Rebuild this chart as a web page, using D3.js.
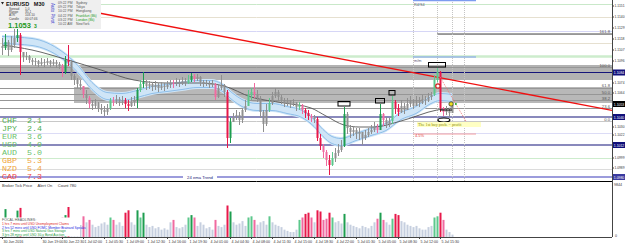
<!DOCTYPE html>
<html><head><meta charset="utf-8">
<script src="https://cdn.jsdelivr.net/npm/d3@7"></script>
<style>html,body{margin:0;padding:0;background:#fff;overflow:hidden}svg{display:block;font-family:"Liberation Sans",Arial,sans-serif}</style>
</head><body><svg id="c" width="625" height="244"></svg>
<script>
// ---------- DATA (prices stored as pips above BASE) ----------
const BASE = 1.1000;
const closePips = [109,115,107,112,119,122,105,100,101,97, 95,96,93,95,94,96,93,95,93,91,
 85,97,95,81,77,73,71,63,59,53, 51,54,49,47,45,49,57,55,58,54, 57,53,51,55,57,67,73,75,71,73,
 70,72,69,71,70,72,74,73,75,73, 76,74,77,81,78,80,75,73,74,72, 73,60,69,72,65,19,35,40,42,37,
 47,51,62,65,63,59,45,33,47,54, 61,65,60,57,54,56,53,55,50,52, 47,44,41,39,38,19,11,5,-3,-8,
 -1,4,7,11,43,29,25,27,23,25, 19,22,25,27,30,27,43,37,33,36, 55,49,45,51,47,53,56,51,57,54,
 58,56,60,62,77,85,49,45,47,44, 52];
const highPips = [119,123,117,121,129,130,124,105,105,102, 99,99,97,99,98,99,97,98,97,95,
 93,101,112,97,83,79,77,71,67,61, 57,58,55,53,51,53,59,60,62,60, 61,59,57,60,61,69,77,85,77,76,
 75,76,74,75,74,76,77,77,79,78, 80,79,82,84,83,83,81,77,77,76, 77,74,73,82,73,67,39,44,47,45,
 49,57,67,69,74,67,61,47,53,59, 65,69,67,62,59,59,57,58,55,55, 53,49,47,43,42,40,23,13,7,2,
 5,9,13,17,50,45,32,31,29,29, 25,27,29,32,35,33,53,44,40,39, 61,57,53,57,54,59,61,58,61,60,
 62,61,64,65,82,89,86,50,51,49, 53];
const lowPips = [102,107,101,105,109,115,82,95,97,94, 92,91,90,91,90,92,90,91,89,88,
 80,83,91,77,72,69,67,59,53,49, 47,49,45,43,41,42,47,51,53,51, 52,49,46,50,51,49,65,69,67,68,
 66,67,65,67,66,68,69,69,71,70, 72,71,73,75,75,76,71,70,71,69, 70,57,59,67,60,9,14,35,37,32,
 34,45,52,57,59,55,39,25,31,45, 52,59,56,53,50,51,49,51,46,47, 43,39,37,35,34,16,7,-1,-9,-18,
 -9,-5,1,5,10,23,19,21,18,17, 12,17,20,23,25,24,27,31,29,30, 33,43,41,44,43,47,50,48,51,50,
 53,52,55,57,61,75,45,41,42,40, 44];
const volumes = [250,930,330,290,410,880,970,330,245,205, 240,210,245,200,250,205,240,210,245,285,
 650,730,1000,490,410,370,400,690,490,570, 410,330,370,450,490,410,650,570,410,490,
 370,810,890,490,410,890,650,810,410,330, 370,290,330,245,290,245,490,570,330,290,
 330,410,650,730,650,370,490,410,290,330, 245,570,370,330,410,1050,850,490,410,450,
 530,370,650,690,570,410,490,530,410,690, 490,410,370,330,245,205,165,165,245,570,
 650,770,810,650,490,890,850,570,610,810, 650,490,530,450,770,490,410,370,330,290,
 370,330,290,370,490,610,810,570,490,410, 610,770,730,530,490,410,370,330,370,290,
 245,245,330,370,650,690,810,570,245,165, 80];

// moving averages (sampled at candle index)
const fastIdx  = [0,10,20,25,30,35,40,45,50,55,60,65,70,73,77,80,85,90,95,100,104,107,110,113,118,123,128,133,138,143,146,150];
const fastPips = [117,115,102,89,71,61,60,63,67,69,71,73,73,70,60,54,50,50,47,43,34,24,17,15,20,25,30,41,47,57,60,59];
const slowIdx  = [0,10,22,33,44,55,66,74,83,94,103,108,114,119,124,133,145,150];
const slowPips = [112,107,97,87,77,74,74,71,60,54,49,41,32,30,30,36,47,49];

// price levels
const pivotLevels = [1.1153,1.1140,1.1126,1.1114,1.1101,1.1024,1.0999,1.0988];
const navyLevels = [1.10845,1.1040,1.1012];
const emaTrendLevel = 1.0980;
const zoneA = [1.1092,1.1077];
const zoneB = [1.1070,1.1054];
const zoneBStart = 24;
const fibHigh = 1.1090, fibLow = 1.1036;
const fibRatios = [1.618,1.0,0.618,0.5,0.382,0.236,0.0];
const fibNames = ["161.8","100.0","61.8","50.0","38.2","23.6","0.0"];
const trendA = {i:20, p:1.1151}, trendB = {i:150, p:1.1077};
const bid = 1.1053;
const yTicks = [1.1151,1.1140,1.1129,1.1118,1.1107,1.1096,1.1074,1.1064,1.1030,1.1022,1.0999,1.0989];
const hlLevels = [1.10845,1.1040,1.1012,1.0980];
const xTickIdx = [0,13,20,27,34,41,48,55,62,69,76,83,90,97,104,111,118,125,132,139,146];
const xTickLabels = ["30 Jun 2016","30 Jun 19:00","30 Jun 22:30","1 Jul 02:00","1 Jul 05:30","1 Jul 09:00","1 Jul 12:30","1 Jul 16:00","1 Jul 19:30","4 Jul 01:00","4 Jul 04:30","4 Jul 08:00","4 Jul 11:30","4 Jul 15:00","4 Jul 18:30","4 Jul 22:00","5 Jul 01:30","5 Jul 05:00","5 Jul 08:30","5 Jul 12:00","5 Jul 15:30"];
const sessionTimes = ["09:22 PM","09:22 PM","10:22 PM","04:22 PM","03:22 PM","10:22 AM"];
const sessionNames = ["Sydney","Tokyo","Hongkong","Frankfurt (Bk)","London (Bk)","NewYork"];
const currencies = ["CHF","JPY","EUR","USD","AUD","GBP","NZD","CAD"];
const strengths = [2.1,2.4,3.6,4.9,5.0,5.3,5.4,7.3];
const headlines = ["1 hrs 7 mins until USD Unemployment Claims","2 hrs 52 mins until USD FOMC Member Brainard Speaks","3 hrs 7 mins until USD Natural Gas Storage","3 hrs 28 mins until USD 30-y Bond Auction"];
const markIdx = [114,126,130,145];
const vLineIdx = [137,145,150,154];

// ---------- DRAW ----------
const svg = d3.select("#c");
const R = 612, MAINB = 181, VOLB = 237;
const P = v => BASE + v/1e4;
const x = d3.scaleLinear().domain([0,150]).range([2,452]);
const y = d3.scaleLinear().domain([1.0976,1.1157]).range([181,0]);
const yv = d3.scaleLinear().domain([0,1000]).range([VOLB,207]);
const N = closePips.length;
const bars = d3.range(N).map(i=>{
  const c=P(closePips[i]), o= i?P(closePips[i-1]):P(closePips[0]+2);
  return {i,o,c,h:Math.max(P(highPips[i]),o,c),l:Math.min(P(lowPips[i]),o,c),v:volumes[i]};
});
function col(b, neutral){
  const up=b.c>=b.o;
  if(b.v>=720) return up?"#1e9e50":"#e8184a";
  if(b.v>=560) return up?"#5cc88c":"#f06aa0";
  return neutral;
}

const main = svg.append("g");
main.append("clipPath").attr("id","mc").append("rect").attr("x",0).attr("y",0).attr("width",R).attr("height",MAINB);
const g = main.append("g").attr("clip-path","url(#mc)");

// zones
g.append("rect").attr("x",0).attr("width",R).attr("y",y(zoneA[0])).attr("height",y(zoneA[1])-y(zoneA[0])).attr("fill","#b2b2b2");
g.append("rect").attr("x",x(zoneBStart)).attr("width",R-x(zoneBStart)).attr("y",y(zoneB[0])).attr("height",y(zoneB[1])-y(zoneB[0])).attr("fill","#b8b8b8");
// pivot levels
const pivCols=["#c9e8c9","#e6e0d0","#d6d6f6","#e6e0d0","#cdeccd","#dcdcf6","#cdeccd","#dcdcdc"];
pivotLevels.forEach((p,k)=>g.append("line").attr("x1",0).attr("x2",R).attr("y1",y(p)+.5).attr("y2",y(p)+.5).attr("stroke",pivCols[k]).attr("stroke-width",k==4?2.5:1));
// fib lines
fibRatios.forEach((r,k)=>{
  const p=fibLow+(fibHigh-fibLow)*r;
  const x0 = r>1.01 ? x(145) : 0;
  g.append("line").attr("x1",x0).attr("x2",R).attr("y1",Math.round(y(p))+.5).attr("y2",Math.round(y(p))+.5).attr("stroke",r==0?"#c8c8c8":"#969696").attr("stroke-width",1);
  svg.append("text").attr("x",R-2).attr("y",y(p)-0.5).attr("text-anchor","end").attr("font-size",4.2).attr("fill","#555").text(fibNames[k]);
});
// navy levels
navyLevels.forEach(p=>g.append("line").attr("x1",0).attr("x2",R).attr("y1",y(p)).attr("y2",y(p)).attr("stroke","#14147a").attr("stroke-width",1.2));
g.append("line").attr("x1",0).attr("x2",R).attr("y1",y(emaTrendLevel)).attr("y2",y(emaTrendLevel)).attr("stroke","#9c9cdc").attr("stroke-width",2.2);
// vertical dotted lines
vLineIdx.forEach(i=>g.append("line").attr("x1",Math.round(x(i))+.5).attr("x2",Math.round(x(i))+.5).attr("y1",0).attr("y2",MAINB).attr("stroke","#c4c4c4").attr("stroke-dasharray","1,1"));
// pivot short lines (blue)
g.append("line").attr("x1",x(137)).attr("x2",x(158)).attr("y1",0.5).attr("y2",0.5).attr("stroke","#7d9cf0").attr("stroke-width",1.5);
g.append("line").attr("x1",x(137)).attr("x2",x(158)).attr("y1",y(1.1100)).attr("y2",y(1.1100)).attr("stroke","#7d9cf0").attr("stroke-width",1.2);
g.append("line").attr("x1",x(137)).attr("x2",x(158)).attr("y1",y(1.1023)).attr("y2",y(1.1023)).attr("stroke","#f4a0a0").attr("stroke-width",1);
g.append("line").attr("x1",x(145)).attr("x2",R).attr("y1",y(fibLow+(fibHigh-fibLow)*1.618)).attr("y2",y(fibLow+(fibHigh-fibLow)*1.618)).attr("stroke","#969696");

// ribbon (fast MA band)
const fastPts = fastIdx.map((i,k)=>({i,p:P(fastPips[k])}));
const area = d3.area().x(d=>x(d.i)).y0(d=>y(d.p)-5).y1(d=>y(d.p)+5).curve(d3.curveMonotoneX);
g.append("path").datum(fastPts).attr("d",area).attr("fill","#cfe5f7");
[-3.5,3.5].forEach(off=>g.append("path").datum(fastPts).attr("d",d3.line().x(d=>x(d.i)).y(d=>y(d.p)+off).curve(d3.curveMonotoneX)).attr("fill","none").attr("stroke","#86b9e6").attr("stroke-width",0.9));
// slow MA
const slowPts = slowIdx.map((i,k)=>({i,p:P(slowPips[k])}));
g.append("path").datum(slowPts).attr("d",d3.line().x(d=>x(d.i)).y(d=>y(d.p)).curve(d3.curveMonotoneX)).attr("fill","none").attr("stroke","#555").attr("stroke-width",0.9);

// trend line
const slope=(trendB.p-trendA.p)/(trendB.i-trendA.i);
const iEnd=x.invert(R);
g.append("line").attr("x1",x(trendA.i)).attr("y1",y(trendA.p)).attr("x2",R).attr("y2",y(trendA.p+slope*(iEnd-trendA.i))).attr("stroke","#f01010").attr("stroke-width",1.3);

// candles
const cg=g.append("g");
bars.forEach(b=>{
  const c=col(b,"#8f8f8f"), xx=Math.round(x(b.i))+.5;
  cg.append("line").attr("x1",xx).attr("x2",xx).attr("y1",y(b.h)).attr("y2",y(b.l)).attr("stroke",c).attr("stroke-width",1);
  const top=y(Math.max(b.o,b.c)), bot=y(Math.min(b.o,b.c));
  cg.append("rect").attr("x",xx-1).attr("width",2).attr("y",top).attr("height",Math.max(1,bot-top)).attr("fill",c);
});

// high marker boxes
const boxW=[12,9,6,17];
markIdx.forEach((i,k)=>{
  const b=bars[i];
  g.append("rect").attr("x",x(i)-boxW[k]/2).attr("y",y(b.h)-5.5).attr("width",boxW[k]).attr("height",4.5).attr("fill","none").attr("stroke","#000").attr("stroke-width",1);
});
// projection & markers
g.append("line").attr("x1",x(146)).attr("y1",y(1.1080)).attr("x2",x(155)).attr("y2",y(1.1034)).attr("stroke","#f08080").attr("stroke-dasharray","1,1");
g.append("line").attr("x1",x(146)).attr("x2",x(150)).attr("y1",y(1.1047)).attr("y2",y(1.1047)).attr("stroke","#000");
g.append("ellipse").attr("cx",x(147.3)).attr("cy",y(1.1037)).attr("rx",6).attr("ry",2).attr("fill","#fff").attr("stroke","#000").attr("stroke-width",1.2);
g.append("circle").attr("cx",x(145.3)).attr("cy",y(1.1071)).attr("r",2.2).attr("fill","#fff").attr("stroke","#d02020").attr("stroke-width",1.2);
g.append("circle").attr("cx",x(149.7)).attr("cy",y(1.1053)).attr("r",2.2).attr("fill","#f0e020").attr("stroke","#333").attr("stroke-width",0.8);
g.append("circle").attr("cx",x(151.3)).attr("cy",y(1.1053)).attr("r",1).attr("fill","#20b020");
// info labels in chart
g.append("rect").attr("x",417).attr("y",y(1.1036)+1).attr("width",64).attr("height",5).attr("fill","#ffffc4");
g.append("text").attr("x",418).attr("y",y(1.1036)+5).attr("font-size",4.2).attr("fill","#8a8a00").attr("font-family","Liberation Serif").text("The 1st buy prob. = profit");
g.append("text").attr("x",415).attr("y",y(1.1020)).attr("font-size",4).attr("fill","#e04040").text("4.5%");
g.append("text").attr("x",414).attr("y",5.5).attr("font-size",3.8).attr("fill","#557").text("R4/S4");
g.append("text").attr("x",414).attr("y",y(1.1100)+5).attr("font-size",3.8).attr("fill","#557").text("m/m");

// 24 ema trend label
g.append("rect").attr("x",183).attr("y",y(emaTrendLevel)-3).attr("width",34).attr("height",6).attr("fill","#fff");
g.append("text").attr("x",200).attr("y",y(emaTrendLevel)+1.5).attr("text-anchor","middle").attr("font-size",4.2).attr("fill","#22227a").text("24 ema Trend");

// currency strength
const cCols=["#4fae4f","#4fae4f","#6cbf6c","#6cbf6c","#6cbf6c","#f0a43c","#f0a43c","#f04848"];
currencies.forEach((c,k)=>{
  svg.append("text").attr("x",2).attr("y",122.5+k*8).attr("font-family","Liberation Mono,monospace").attr("font-size",6.8).attr("textLength",40).attr("lengthAdjust","spacingAndGlyphs").attr("fill",cCols[k]).attr("xml:space","preserve").text(c+"  "+strengths[k].toFixed(1));
});

// info panel
svg.append("rect").attr("x",0).attr("y",0).attr("width",101).attr("height",29).attr("fill","#efefef");
svg.append("path").attr("d","M1,2 L4,2 L2.5,4.5Z").attr("fill","#222");
svg.append("text").attr("x",6).attr("y",5.5).attr("font-size",5.5).attr("font-weight","bold").attr("fill","#111").attr("xml:space","preserve").text("EURUSD   M30");
const stL=["Spread","Range","ATR","Candle"], stV=["1.0","35.1","103.10","00:07:46"];
stL.forEach((s,k)=>{svg.append("text").attr("x",9).attr("y",9.5+k*3.4).attr("font-size",3.2).attr("fill","#444").text(s);
 svg.append("text").attr("x",25).attr("y",9.5+k*3.4).attr("font-size",3.2).attr("fill","#444").text(stV[k]);});
svg.append("text").attr("x",8).attr("y",27.5).attr("font-size",7.5).attr("font-weight","bold").attr("fill","#1e9a1e").text("1.1053");
svg.append("text").attr("x",34).attr("y",27.5).attr("font-size",5).attr("font-weight","bold").attr("fill","#1e9a1e").text("3");
svg.append("text").attr("transform","translate(51,3) rotate(90)").attr("font-size",4.5).attr("fill","#3a3acc").text("Auto Pivot");
sessionTimes.forEach((t,k)=>{
  const gc = (k==3||k==4)?"#1e9a1e":"#555";
  svg.append("text").attr("x",58).attr("y",3.8+k*4.3).attr("font-size",3.4).attr("fill","#555").text(t);
  svg.append("text").attr("x",76).attr("y",3.8+k*4.3).attr("font-size",3.4).attr("fill",gc).text(sessionNames[k]);
});

// separator between main and volume
svg.append("line").attr("x1",0).attr("x2",R).attr("y1",MAINB+.5).attr("y2",MAINB+.5).attr("stroke","#000").attr("stroke-width",1);
svg.append("text").attr("x",2).attr("y",187).attr("font-size",4).attr("fill","#333").attr("xml:space","preserve").text("Broker Tick Price     Alert On     Count 780");

// volume bars
const vg=svg.append("g");
bars.forEach(b=>{
  const c=col(b,"#c6cfdf"), xx=Math.round(x(b.i));
  vg.append("rect").attr("x",xx-0.5).attr("width",2).attr("y",yv(b.v)).attr("height",VOLB-yv(b.v)).attr("fill",c);
});
// headlines block
svg.append("rect").attr("x",0).attr("y",217.5).attr("width",80).attr("height",19).attr("fill","#fff");
svg.append("text").attr("x",2).attr("y",221).attr("font-size",3.6).attr("fill","#555").text("FOCAL HEADLINES:");
const hCols=["#e02828","#2828e0","#1e9a40","#1e9a40"];
headlines.forEach((h,k)=>svg.append("text").attr("x",2).attr("y",225+k*3.6).attr("font-size",3.3).attr("fill",hCols[k]).text(h));

// x axis
svg.append("line").attr("x1",0).attr("x2",R).attr("y1",VOLB+.5).attr("y2",VOLB+.5).attr("stroke","#444");
xTickIdx.forEach((i,k)=>{
  const xx=Math.round(x(i))+.5;
  svg.append("line").attr("x1",xx).attr("x2",xx).attr("y1",VOLB).attr("y2",VOLB+2).attr("stroke","#444");
  svg.append("text").attr("x",xx+1).attr("y",242.5).attr("font-size",3.6).attr("fill","#333").text(xTickLabels[k]);
});

// right axis
svg.append("line").attr("x1",R+.5).attr("x2",R+.5).attr("y1",0).attr("y2",VOLB).attr("stroke","#444");
yTicks.forEach(p=>{
  svg.append("line").attr("x1",R).attr("x2",R+2).attr("y1",y(p)).attr("y2",y(p)).attr("stroke","#444");
  svg.append("text").attr("x",R+2.5).attr("y",y(p)+1.3).attr("font-size",3.5).attr("textLength",10).attr("lengthAdjust","spacingAndGlyphs").attr("fill","#333").text(p.toFixed(4));
});
hlLevels.forEach((p,k)=>{
  svg.append("rect").attr("x",R+1).attr("y",y(p)-3).attr("width",12).attr("height",6).attr("fill",k==3?"#3a3aa0":"#10107a");
  svg.append("text").attr("x",R+1.8).attr("y",y(p)+1.5).attr("font-size",3.8).attr("textLength",10.4).attr("lengthAdjust","spacingAndGlyphs").attr("fill","#fff").text(p.toFixed(4));
});
svg.append("rect").attr("x",R+1).attr("y",y(bid)-3).attr("width",12).attr("height",6).attr("fill","#000");
svg.append("text").attr("x",R+1.8).attr("y",y(bid)+1.5).attr("font-size",3.8).attr("textLength",10.4).attr("lengthAdjust","spacingAndGlyphs").attr("fill","#fff").text(bid.toFixed(4));
svg.append("text").attr("x",R+2).attr("y",186).attr("font-size",3.6).attr("fill","#333").text("9844");
svg.append("text").attr("x",R+3).attr("y",VOLB).attr("font-size",3.6).attr("fill","#333").text("0");
</script></body></html>
